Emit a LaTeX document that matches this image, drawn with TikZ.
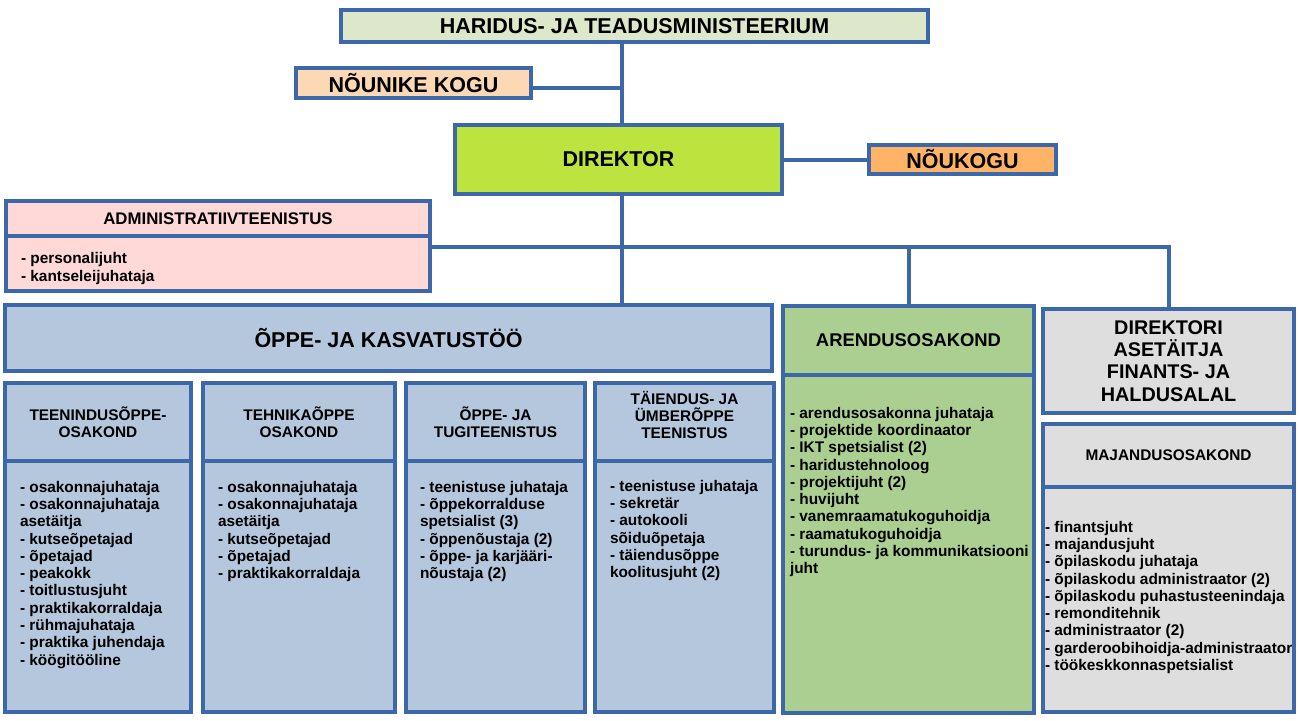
\documentclass[tikz,border=0pt]{standalone}
\usepackage{fontspec}
\setmainfont{Liberation Sans}

\definecolor{orgblue}{RGB}{60,103,168}
\definecolor{ministrygreen}{RGB}{221,232,203}
\definecolor{councilpeach}{RGB}{252,217,180}
\definecolor{directorlime}{RGB}{189,227,62}
\definecolor{boardorange}{RGB}{255,179,102}
\definecolor{adminpink}{RGB}{255,216,216}
\definecolor{studyblue}{RGB}{181,199,221}
\definecolor{developgreen}{RGB}{171,207,144}
\definecolor{financegrey}{RGB}{222,222,222}

\begin{document}
\begin{tikzpicture}[x=1pt, y=-1pt, line width=4pt,
  orgbox/.style={draw=orgblue, inner sep=0pt, align=center,
    font=\bfseries\fontsize{21.5}{24}\selectfont},
  unithead/.style={orgbox, font=\bfseries\fontsize{15.4}{17.3}\selectfont},
  duties/.style={anchor=north west, inner sep=0pt, align=left,
    font=\bfseries\fontsize{15.4}{17.3}\selectfont},
  link/.style={draw=orgblue}]

  \useasboundingbox (0,0) rectangle (1300,720);
  \coordinate (spine) at (622,0);
  \coordinate (tie) at (0,88);
  \coordinate (bus) at (0,247);

  \node [orgbox, fill=ministrygreen, minimum width=587pt, minimum height=32pt] (ministry) at (634.5,26) {HARIDUS- JA TEADUSMINISTEERIUM};
  \node [orgbox, fill=councilpeach, minimum width=235pt, minimum height=30pt] (council) at (413.5,83) {NÕUNIKE KOGU};
  \node [orgbox, fill=directorlime, minimum width=327pt, minimum height=69pt] (director) at (618.5,159.5) {DIREKTOR};
  \node [orgbox, fill=boardorange, minimum width=187pt, minimum height=29pt] (board) at (962.5,159.5) {NÕUKOGU};

  \node [unithead, fill=adminpink, minimum width=424pt, minimum height=35pt, font=\bfseries\fontsize{16.8}{19}\selectfont] (admin-head) at (218,218.5) {ADMINISTRATIIVTEENISTUS};
  \node [unithead, fill=adminpink, minimum width=424pt, minimum height=55pt] (admin-body) at (218,263.5) {};

  \node [orgbox, fill=studyblue, minimum width=767pt, minimum height=66pt] (study) at (388.5,338) {ÕPPE- JA KASVATUSTÖÖ};

  \foreach \n/\l/\r/\d/\h in {service/3/193/0/{TEENINDUSÕPPE-\\OSAKOND},
                             technic/201/397/0/{TEHNIKAÕPPE\\OSAKOND},
                             support/404/587/0/{ÕPPE- JA\\TUGITEENISTUS},
                             further/593/776/14/{TÄIENDUS- JA\\ÜMBERÕPPE\\TEENISTUS}}
  {
    \node [unithead, fill=studyblue, minimum width=\r-\l-4, minimum height=78pt, text depth=\d pt] (\n-head) at ({(\l+\r)/2},422) {\h};
    \node [unithead, fill=studyblue, minimum width=\r-\l-4, minimum height=251pt] (\n-body) at ({(\l+\r)/2},586.5) {};
  }

  \node [unithead, fill=developgreen, minimum width=251pt, minimum height=69pt, font=\bfseries\fontsize{18.4}{21}\selectfont] (develop-head) at (908.5,340.5) {ARENDUSOSAKOND};
  \node [unithead, fill=developgreen, minimum width=251pt, minimum height=338pt] (develop-body) at (908.5,544) {};

  \node [unithead, fill=financegrey, minimum width=251pt, minimum height=104pt, font=\bfseries\fontsize{19.8}{22.3}\selectfont] (deputy) at (1168.5,361) {DIREKTORI\\ASETÄITJA\\FINANTS- JA\\HALDUSALAL};
  \node [unithead, fill=financegrey, minimum width=251pt, minimum height=63pt] (estate-head) at (1168.5,455.5) {MAJANDUSOSAKOND};
  \node [unithead, fill=financegrey, minimum width=251pt, minimum height=225pt] (estate-body) at (1168.5,599.5) {};

  \node [duties, font=\bfseries\fontsize{15.4}{18}\selectfont] (admin-list) at (19,250) {- personalijuht\\- kantseleijuhataja};
  \node [duties] (service-list) at (18,479) {- osakonnajuhataja\\- osakonnajuhataja\\asetäitja\\- kutseõpetajad\\- õpetajad\\- peakokk\\- toitlustusjuht\\- praktikakorraldaja\\- rühmajuhataja\\- praktika juhendaja\\- köögitööline};
  \node [duties] (technic-list) at (216,479) {- osakonnajuhataja\\- osakonnajuhataja\\asetäitja\\- kutseõpetajad\\- õpetajad\\- praktikakorraldaja};
  \node [duties] (support-list) at (418,479) {- teenistuse juhataja\\- õppekorralduse\\spetsialist (3)\\- õppenõustaja (2)\\- õppe- ja karjääri-\\nõustaja (2)};
  \node [duties] (further-list) at (608,478) {- teenistuse juhataja\\- sekretär\\- autokooli\\sõiduõpetaja\\- täiendusõppe\\koolitusjuht (2)};
  \node [duties] (develop-list) at (788,405) {- arendusosakonna juhataja\\- projektide koordinaator\\- IKT spetsialist (2)\\- haridustehnoloog\\- projektijuht (2)\\- huvijuht\\- vanemraamatukoguhoidja\\- raamatukoguhoidja\\- turundus- ja kommunikatsiooni\\juht};
  \node [duties] (estate-list) at (1043,519) {- finantsjuht\\- majandusjuht\\- õpilaskodu juhataja\\- õpilaskodu administraator (2)\\- õpilaskodu puhastusteenindaja\\- remonditehnik\\- administraator (2)\\- garderoobihoidja-administraator\\- töökeskkonnaspetsialist};

  \draw [link] (ministry.south -| spine) -- (director.north -| spine);
  \draw [link] (council.east |- tie) -- (tie -| spine);
  \draw [link] (director) -- (board);
  \draw [link] (director.south -| spine) -- (study.north -| spine);
  \draw [link] (admin-body.east |- bus) -- (bus -| deputy.north) -- (deputy.north);
  \draw [link] (bus -| develop-head.north) -- (develop-head.north);

\end{tikzpicture}
\end{document}
